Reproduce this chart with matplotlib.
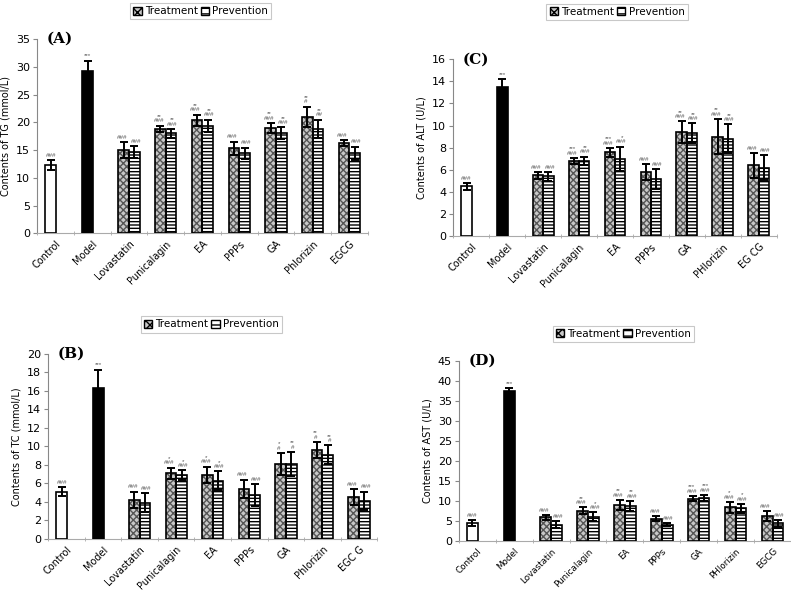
import numpy as np
import matplotlib
matplotlib.use("Agg")
import matplotlib.pyplot as plt
from matplotlib.patches import Patch

plt.rcParams['font.family'] = ['DejaVu Sans']
plt.rcParams['hatch.linewidth'] = 1.0

groups = ["Lovastatin", "Punicalagin", "EA", "PPPs", "GA", "Phlorizin", "EGCG"]

# (A) TG
tg_ctrl, tg_ctrl_err = 12.3, 0.9
tg_model, tg_model_err = 29.3, 1.8
tg_treat = [15.0, 18.8, 20.4, 15.3, 19.0, 21.0, 16.3]
tg_treat_err = [1.4, 0.6, 1.0, 1.2, 0.9, 1.8, 0.5]
tg_prev = [14.6, 18.0, 19.4, 14.4, 18.0, 18.8, 14.4]
tg_prev_err = [1.1, 0.8, 1.1, 1.0, 1.1, 1.7, 1.2]
tg_sig_t = ["###", "**\n###", "**\n###", "###", "**\n###", "**\n#", "###"]
tg_sig_p = ["###", "**\n###", "**\n###", "###", "**\n###", "**\n##", "###"]

# (B) TC
tc_ctrl, tc_ctrl_err = 5.1, 0.5
tc_model, tc_model_err = 16.3, 2.0
tc_treat = [4.2, 7.1, 6.9, 5.4, 8.1, 9.6, 4.5]
tc_treat_err = [0.9, 0.6, 0.9, 1.0, 1.2, 0.9, 0.9]
tc_prev = [3.9, 6.9, 6.3, 4.7, 8.1, 9.1, 4.1]
tc_prev_err = [1.0, 0.5, 1.0, 1.2, 1.3, 1.0, 1.0]
tc_sig_t = ["###", "*\n###", "*\n###", "###", "*\n#", "**\n#", "###"]
tc_sig_p = ["###", "*\n###", "*\n###", "###", "**\n#", "**\n#", "###"]

# (C) ALT
alt_ctrl, alt_ctrl_err = 4.5, 0.3
alt_model, alt_model_err = 13.5, 0.7
alt_treat = [5.5, 6.8, 7.6, 5.8, 9.4, 9.0, 6.4]
alt_treat_err = [0.3, 0.3, 0.4, 0.7, 1.0, 1.6, 1.1]
alt_prev = [5.4, 6.8, 7.0, 5.2, 9.3, 8.8, 6.2]
alt_prev_err = [0.4, 0.4, 1.1, 0.9, 0.9, 1.3, 1.1]
alt_sig_t = ["###", "***\n###", "***\n###", "###", "**\n###", "**\n###", "###"]
alt_sig_p = ["###", "**\n###", "*\n###", "###", "**\n###", "**\n###", "###"]

# (D) AST
ast_ctrl, ast_ctrl_err = 4.5, 0.7
ast_model, ast_model_err = 37.5, 0.8
ast_treat = [5.9, 7.6, 9.0, 5.6, 10.6, 8.4, 6.2]
ast_treat_err = [0.6, 0.8, 1.3, 0.6, 0.7, 1.4, 1.2]
ast_prev = [4.1, 6.1, 8.8, 4.1, 10.7, 8.2, 4.4]
ast_prev_err = [0.8, 1.1, 1.2, 0.4, 0.8, 1.1, 0.8]
ast_sig_t = ["###", "**\n###", "**\n###", "###", "***\n###", "*\n###", "###"]
ast_sig_p = ["###", "*\n###", "**\n###", "###", "***\n###", "*\n###", "###"]

labels_a = ["Control", "Model", "Lovastatin", "Punicalagin", "EA", "PPPs", "GA", "Phlorizin", "EGCG"]
labels_b = ["Control", "Model", "Lovastatin", "Punicalagin", "EA", "PPPs", "GA", "Phlorizin", "EGC G"]
labels_c = ["Control", "Model", "Lovastatin", "Punicalagin", "EA", "PPPs", "GA", "PHlorizin", "EG CG"]
labels_d = ["Control", "Model", "Lovastatin", "Punicalagin", "EA", "PPPs", "GA", "PHlorizin", "EGCG"]

TREAT_FC, TREAT_HC = "#c8c8c8", "#555555"
W = 0.29


def hbar(ax, x, h, fc, hc, hatch):
    ax.bar(x, h, W, color=fc, edgecolor=hc, hatch=hatch, linewidth=0, zorder=2)
    ax.bar(x, h, W, fill=False, edgecolor="black", linewidth=1.2, zorder=3)


def sig(ax, x, top, txt, ymax):
    ax.text(x, top + ymax * 0.012, txt, ha="center", va="bottom", fontsize=4.5,
            family="Liberation Sans", color="#555555", linespacing=0.85, zorder=4)


def panel(rect, letter, ylabel, ymax, ystep, ctrl, ctrl_err, model, model_err,
          treat, treat_err, prev, prev_err, sig_t, sig_p, xlabels, xfs=7):
    ax = fig.add_axes(rect)
    ebkw = dict(fmt="none", ecolor="black", elinewidth=1.4, capsize=3, capthick=1.4, zorder=5)
    xc = -0.13
    ax.bar(xc, ctrl, W, color="white", edgecolor="black", linewidth=1.2, zorder=3)
    ax.errorbar(xc, ctrl, yerr=ctrl_err, **ebkw)
    sig(ax, xc, ctrl + ctrl_err, "###", ymax)
    xm = 1 - 0.13
    ax.bar(xm, model, W, color="black", edgecolor="black", linewidth=1.2, zorder=3)
    ax.errorbar(xm, model, yerr=model_err, **ebkw)
    sig(ax, xm, model + model_err, "***", ymax)
    for i in range(len(treat)):
        xt = i + 2 - W / 2
        xp = i + 2 + W / 2
        hbar(ax, xt, treat[i], TREAT_FC, TREAT_HC, "xxxxx")
        hbar(ax, xp, prev[i], "white", "black", "-----")
        ax.errorbar(xt, treat[i], yerr=treat_err[i], **ebkw)
        ax.errorbar(xp, prev[i], yerr=prev_err[i], **ebkw)
        sig(ax, xt - 0.04, treat[i] + treat_err[i], sig_t[i], ymax)
        sig(ax, xp + 0.04, prev[i] + prev_err[i], sig_p[i], ymax)
    ax.set_xlim(-0.5, 8.5)
    ax.set_ylim(0, ymax)
    ax.set_yticks(np.arange(0, ymax + 0.01, ystep))
    ax.set_xticks(np.arange(9))
    ax.set_xticklabels(xlabels, rotation=45, ha="right", rotation_mode="anchor", fontsize=xfs)
    ax.set_xticks(np.arange(-0.5, 9, 1), minor=True)
    ax.tick_params(axis="x", which="major", length=0, pad=4)
    ax.tick_params(axis="x", which="minor", length=3, direction="inout", color="#aaaaaa")
    ax.tick_params(axis="y", labelsize=8, length=3, color="#888888", pad=2)
    for s in ["top", "right"]:
        ax.spines[s].set_visible(False)
    ax.spines["left"].set_color("#888888")
    ax.spines["bottom"].set_color("#aaaaaa")
    ax.set_ylabel(ylabel, fontsize=7)
    ax.text(0.03, 1.0, letter, transform=ax.transAxes, ha="left", va="center",
            fontsize=11, fontweight="bold", family="DejaVu Serif")
    return ax


def legend(cx, cy):
    handles = [Patch(facecolor=TREAT_FC, edgecolor="black", hatch="xxxx", linewidth=1),
               Patch(facecolor="white", edgecolor="black", hatch="---", linewidth=1)]
    lg = fig.legend(handles, ["Treatment", "Prevention"], loc="center", bbox_to_anchor=(cx, cy),
                    ncol=2, fontsize=7.5, frameon=True, fancybox=False, handlelength=0.8,
                    handleheight=0.8, handletextpad=0.3, columnspacing=0.3, borderpad=0.3)
    lg.get_frame().set_edgecolor("#bbbbbb")
    lg.get_frame().set_linewidth(0.8)


fig = plt.figure(figsize=(7.91, 5.92), dpi=100)

panel([0.047, 0.606, 0.418, 0.328], "(A)", "Contents of TG (mmol/L)", 35, 5,
      tg_ctrl, tg_ctrl_err, tg_model, tg_model_err, tg_treat, tg_treat_err,
      tg_prev, tg_prev_err, tg_sig_t, tg_sig_p, labels_a)
panel([0.061, 0.090, 0.416, 0.312], "(B)", "Contents of TC (mmol/L)", 20, 2,
      tc_ctrl, tc_ctrl_err, tc_model, tc_model_err, tc_treat, tc_treat_err,
      tc_prev, tc_prev_err, tc_sig_t, tc_sig_p, labels_b)
panel([0.573, 0.601, 0.409, 0.299], "(C)", "Contents of ALT (U/L)", 16, 2,
      alt_ctrl, alt_ctrl_err, alt_model, alt_model_err, alt_treat, alt_treat_err,
      alt_prev, alt_prev_err, alt_sig_t, alt_sig_p, labels_c)
panel([0.580, 0.086, 0.420, 0.304], "(D)", "Contents of AST (U/L)", 45, 5,
      ast_ctrl, ast_ctrl_err, ast_model, ast_model_err, ast_treat, ast_treat_err,
      ast_prev, ast_prev_err, ast_sig_t, ast_sig_p, labels_d, xfs=6.3)

legend(0.254, 0.981)
legend(0.267, 0.452)
legend(0.780, 0.980)
legend(0.788, 0.436)

fig.savefig("out.png", dpi=100)
